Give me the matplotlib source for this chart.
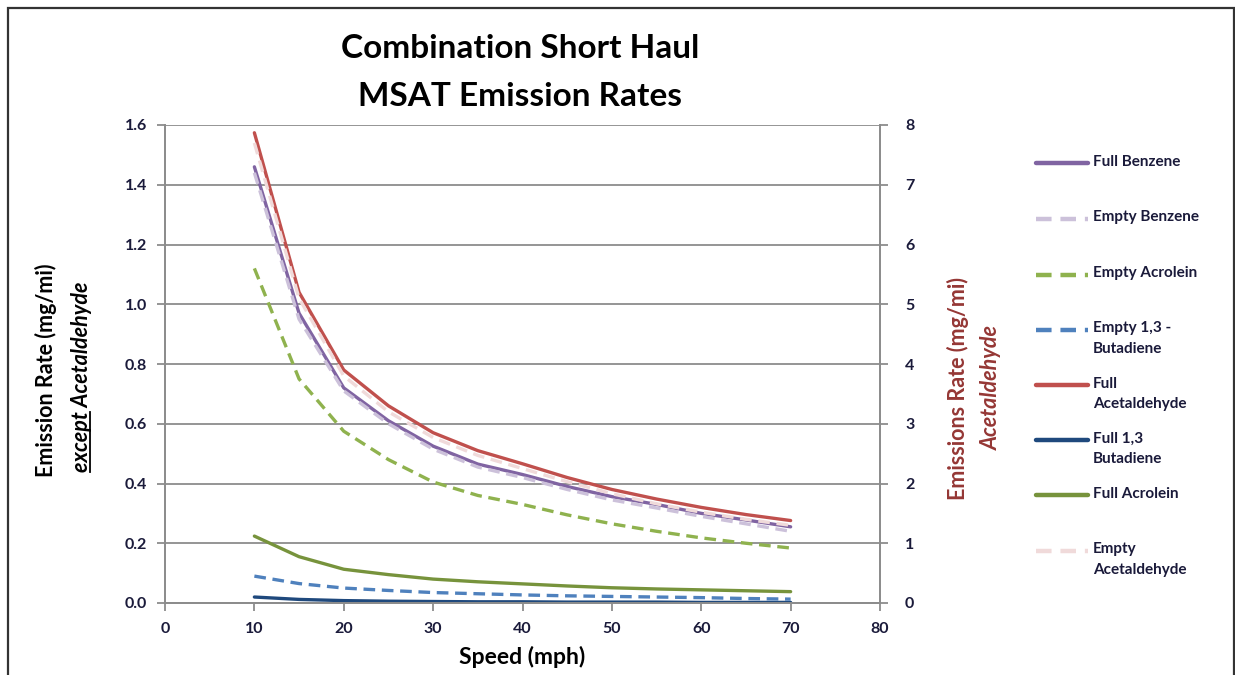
import matplotlib.pyplot as plt
from matplotlib.lines import Line2D
from matplotlib.patches import Rectangle

plt.rcParams['font.family'] = ['Lato', 'DejaVu Sans']

speed = [10, 15, 20, 25, 30, 35, 40, 45, 50, 55, 60, 65, 70]

# left axis (mg/mi)
full_benzene = [1.46, 0.97, 0.72, 0.61, 0.525, 0.465, 0.43, 0.39, 0.356, 0.33, 0.30, 0.278, 0.255]
empty_benzene = [1.44, 0.95, 0.71, 0.60, 0.515, 0.455, 0.42, 0.38, 0.345, 0.318, 0.29, 0.265, 0.24]
empty_acrolein = [1.12, 0.75, 0.575, 0.48, 0.405, 0.36, 0.33, 0.295, 0.265, 0.24, 0.218, 0.20, 0.184]
empty_butadiene = [0.09, 0.065, 0.05, 0.042, 0.035, 0.031, 0.027, 0.024, 0.022, 0.02, 0.018, 0.015, 0.013]
full_butadiene = [0.02, 0.012, 0.008, 0.006, 0.005, 0.004, 0.004, 0.003, 0.003, 0.003, 0.002, 0.002, 0.002]
full_acrolein = [0.224, 0.155, 0.113, 0.095, 0.08, 0.071, 0.064, 0.057, 0.051, 0.047, 0.044, 0.041, 0.038]

# right axis (mg/mi), acetaldehyde
full_acetaldehyde = [7.87, 5.2, 3.9, 3.3, 2.85, 2.55, 2.33, 2.1, 1.9, 1.74, 1.6, 1.48, 1.38]
empty_acetaldehyde = [7.7, 5.1, 3.8, 3.2, 2.77, 2.47, 2.25, 2.03, 1.83, 1.66, 1.52, 1.4, 1.3]

left_ticks = [0.0, 0.2, 0.4, 0.6, 0.8, 1.0, 1.2, 1.4, 1.6]
right_ticks = [0, 1, 2, 3, 4, 5, 6, 7, 8]
x_ticks = [0, 10, 20, 30, 40, 50, 60, 70, 80]

c_purple = '#8064A2'
c_lav = '#CCC1DA'
c_green_l = '#8FB24E'
c_blue = '#4F81BD'
c_red = '#C0504D'
c_navy = '#1F497D'
c_green = '#77933C'
c_pink = '#F0DADA'
c_grid = '#8C8C8C'
c_dred = '#953735'

W, H = 1235, 675
fig = plt.figure(figsize=(W / 100, H / 100), dpi=100)
ax = fig.add_axes([165 / W, 1 - 603 / H, (880 - 165) / W, (603 - 125) / H])
ax2 = ax.twinx()

# frame around the chart
fig.patches.append(Rectangle((8 / W, -0.1), (1234 - 8) / W, 1.1 - 8 / H,
                             transform=fig.transFigure, fill=False,
                             edgecolor='#333333', lw=1.6))

dash = (0, (3.5, 2.0))
lw = 2.4
ax.plot(speed, full_acrolein, color=c_green, lw=lw, solid_capstyle='round')
ax.plot(speed, full_butadiene, color=c_navy, lw=lw, solid_capstyle='round')
ax.plot(speed, empty_butadiene, color=c_blue, lw=lw, ls=dash)
ax.plot(speed, empty_acrolein, color=c_green_l, lw=lw, ls=dash)
ax.plot(speed, full_benzene, color=c_purple, lw=lw, solid_capstyle='round')
ax.plot(speed, empty_benzene, color=c_lav, lw=lw, ls=dash)
ax2.plot(speed, full_acetaldehyde, color=c_red, lw=lw, solid_capstyle='round')
ax2.plot(speed, empty_acetaldehyde, color=c_pink, lw=lw, ls=dash)

ax.set_xlim(0, 80)
ax.set_ylim(0, 1.6)
ax2.set_ylim(0, 8)
ax.set_xticks(x_ticks)
ax.set_yticks(left_ticks)
ax2.set_yticks(right_ticks)
ax.set_yticklabels(['%.1f' % v for v in left_ticks])
ax.grid(axis='y', color=c_grid, lw=1.3)
ax.set_axisbelow(True)

for a in (ax, ax2):
    a.spines['top'].set_visible(False)
    for s in ('left', 'right', 'bottom'):
        a.spines[s].set_color(c_grid)
        a.spines[s].set_linewidth(1.3)
    a.tick_params(length=6, width=1.3, color=c_grid, labelsize=11.5,
                  labelcolor='#1a1a3a')
    for lab in a.get_xticklabels() + a.get_yticklabels():
        lab.set_fontweight('bold')
ax.tick_params(axis='y', pad=7)
ax2.tick_params(axis='y', pad=12)
ax.tick_params(axis='x', pad=8)

ax.set_xlabel('Speed (mph)', fontsize=16.5, fontweight='bold', labelpad=7)

fig.text(520 / W, 1 - 48 / H, 'Combination Short Haul', ha='center', va='center',
         fontsize=24, fontweight='bold')
fig.text(520 / W, 1 - 96 / H, 'MSAT Emission Rates', ha='center', va='center',
         fontsize=24, fontweight='bold')

# left axis label, two lines
ylab_fs = 15.5
fig.text(46 / W, 1 - 370 / H, 'Emission Rate (mg/mi)', rotation=90, ha='center',
         va='center', fontsize=ylab_fs, fontweight='bold')
t2 = fig.text(81 / W, 1 - 377 / H, 'except Acetaldehyde', rotation=90, ha='center',
              va='center', fontsize=ylab_fs, fontweight='bold', style='italic')
# right axis label
fig.text(958 / W, 1 - 388 / H, 'Emissions Rate (mg/mi)', rotation=90, ha='center',
         va='center', fontsize=ylab_fs, fontweight='bold', color=c_dred)
fig.text(991 / W, 1 - 387 / H, 'Acetaldehyde', rotation=90, ha='center',
         va='center', fontsize=ylab_fs, fontweight='bold', style='italic', color=c_dred)

# underline "except"
r = fig.canvas.get_renderer()
bb = t2.get_window_extent(r)
probe = fig.text(0, 0, 'except', fontsize=ylab_fs, fontweight='bold', style='italic')
pw = probe.get_window_extent(r).width
probe.remove()
ux = bb.x1 - 2
fig.add_artist(Line2D([ux / W, ux / W], [bb.y0 / H, (bb.y0 + pw) / H],
                      transform=fig.transFigure, color='black', lw=1.3))

# legend
legend_rows = [
    ('Full Benzene', c_purple, '-', 163),
    ('Empty Benzene', c_lav, dash, 219),
    ('Empty Acrolein', c_green_l, dash, 275),
    ('Empty 1,3 -\nButadiene', c_blue, dash, 330),
    ('Full\nAcetaldehyde', c_red, '-', 385),
    ('Full 1,3\nButadiene', c_navy, '-', 440),
    ('Full Acrolein', c_green, '-', 495),
    ('Empty\nAcetaldehyde', c_pink, dash, 551),
]
for label, col, ls, yy in legend_rows:
    fig.add_artist(Line2D([1036 / W, 1088 / W], [1 - yy / H, 1 - yy / H],
                          transform=fig.transFigure, color=col, lw=3.2, ls=ls,
                          solid_capstyle='round'))
    fig.text(1093 / W, 1 - (yy - 8.5) / H, label, ha='left', va='top',
             fontsize=11, fontweight='bold', color='#1a1a3a', linespacing=1.55)

fig.savefig('out.png', dpi=100)
